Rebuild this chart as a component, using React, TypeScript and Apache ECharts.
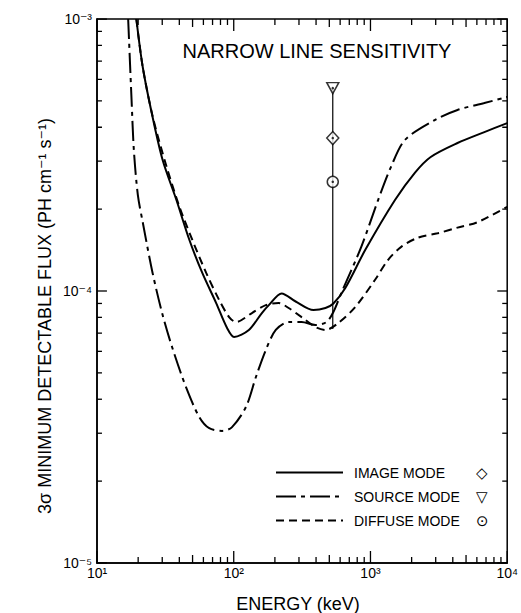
import React, { useEffect, useRef } from "react";
import * as echarts from "echarts";

// ---- data (energy in keV, flux in ph cm^-2 s^-1) ----
const imageEnergy = [19.4, 21.6, 25.5, 30.2, 38.1, 47.4, 58.9, 74.4, 89.4, 100.6, 129, 160.6, 180.6, 224, 283.6, 383, 468.5, 535.5, 654.6, 914.7, 1511, 2110, 2758, 4331, 6805, 10000];
const imageFlux = [1e-3, 6.66e-4, 4.36e-4, 3.03e-4, 2.16e-4, 1.54e-4, 1.165e-4, 9.03e-5, 7.31e-5, 6.78e-5, 7.19e-5, 8.3e-5, 8.87e-5, 9.8e-5, 9.15e-5, 8.51e-5, 8.66e-5, 9.0e-5, 1.026e-4, 1.414e-4, 2.16e-4, 2.72e-4, 3.11e-4, 3.5e-4, 3.84e-4, 4.14e-4];

const sourceEnergy = [16.9, 17.9, 18.6, 19.9, 21.6, 25.5, 30.2, 35.6, 45.0, 56.0, 66.2, 82.3, 97.2, 122.9, 145.3, 171.7, 203, 252, 313.6, 396, 476.5, 535.5, 612, 855, 1137, 1413, 1786, 2949, 4331, 6805, 10000];
const sourceFlux = [1e-3, 5.03e-4, 3.3e-4, 2.25e-4, 1.79e-4, 1.165e-4, 8.16e-5, 6.17e-5, 4.4e-5, 3.44e-5, 3.13e-5, 3.06e-5, 3.16e-5, 3.75e-5, 4.83e-5, 6.07e-5, 7.19e-5, 7.69e-5, 7.69e-5, 7.5e-5, 7.69e-5, 8.37e-5, 9.83e-5, 1.45e-4, 2.16e-4, 2.86e-4, 3.59e-4, 4.25e-4, 4.63e-4, 4.91e-4, 5.17e-4];

const diffuseEnergy = [19.4, 21.6, 25.6, 32.3, 40.1, 49.8, 62.9, 78.2, 92.5, 104, 135.9, 171.7, 213, 252, 313.6, 396, 468.5, 582, 773.6, 1081, 1343, 1670, 2220, 3101, 4331, 6054, 10000];
const diffuseFlux = [1e-3, 6.66e-4, 4.36e-4, 2.86e-4, 2.04e-4, 1.54e-4, 1.165e-4, 9.27e-5, 8.02e-5, 7.69e-5, 8.3e-5, 8.87e-5, 9.03e-5, 8.66e-5, 8.02e-5, 7.37e-5, 7.19e-5, 7.63e-5, 8.73e-5, 1.1e-4, 1.3e-4, 1.45e-4, 1.57e-4, 1.63e-4, 1.71e-4, 1.79e-4, 2.04e-4];

// narrow line sensitivities
const lineEnergy = 530;
const lineFluxBottom = 7.25e-5;
const lineSourceFlux = 5.57e-4;
const lineImageFlux = 3.65e-4;
const lineDiffuseFlux = 2.52e-4;

// axes
const xTickValues = [10, 100, 1000, 10000];
const xTickLabels = ["10¹", "10²", "10³", "10⁴"];
const yTickValues = [1e-5, 1e-4, 1e-3];
const yTickLabels = ["10⁻⁵", "10⁻⁴", "10⁻³"];
const xMinorValues = [20, 30, 40, 50, 60, 70, 80, 90, 200, 300, 400, 500, 600, 700, 800, 900, 2000, 3000, 4000, 5000, 6000, 7000, 8000, 9000];
const yMinorValues = [2e-5, 3e-5, 4e-5, 5e-5, 6e-5, 7e-5, 8e-5, 9e-5, 2e-4, 3e-4, 4e-4, 5e-4, 6e-4, 7e-4, 8e-4, 9e-4];

const legendNames = ["IMAGE MODE", "SOURCE MODE", "DIFFUSE MODE"];
const legendMarks = ["◇", "▽", "⊙"];

const titleText = "NARROW LINE SENSITIVITY";
const xAxisTitle = "ENERGY (keV)";
const yAxisTitle = "3σ MINIMUM DETECTABLE FLUX (PH cm⁻¹ s⁻¹)";

const FONT = "'Liberation Sans', 'DejaVu Sans', sans-serif";
const BLACK = "#000";

const GRID = { left: 97, top: 19, width: 413, height: 544 };
const X_MIN = 10, X_MAX = 10000, Y_MIN = 1e-5, Y_MAX = 1e-3;

function pairs(xs: number[], ys: number[]) {
  return xs.map((x, i) => [x, ys[i]]);
}

function labelFor(values: number[], labels: string[], v: number) {
  for (let i = 0; i < values.length; i++) {
    if (Math.abs(Math.log10(v) - Math.log10(values[i])) < 1e-6) return labels[i];
  }
  return "";
}

// inward ticks on all four sides: each is a tiny two-point line series drawn through the log axes
function buildTickSeries() {
  const xDecPerPx = Math.log10(X_MAX / X_MIN) / GRID.width;
  const yDecPerPx = Math.log10(Y_MAX / Y_MIN) / GRID.height;
  const out: any[] = [];
  const seg = (a: number[], b: number[]) =>
    out.push({
      type: "line",
      name: "tick",
      data: [a, b],
      symbol: "none",
      silent: true,
      z: 6,
      lineStyle: { color: BLACK, width: 1.3, type: "solid" },
    });
  const fy = (px: number) => Math.pow(10, px * yDecPerPx);
  const fx = (px: number) => Math.pow(10, px * xDecPerPx);
  const addX = (v: number, len: number) => {
    seg([v, Y_MIN], [v, Y_MIN * fy(len)]);
    seg([v, Y_MAX], [v, Y_MAX / fy(len)]);
  };
  const addY = (v: number, len: number) => {
    seg([X_MIN, v], [X_MIN * fx(len), v]);
    seg([X_MAX, v], [X_MAX / fx(len), v]);
  };
  xTickValues.forEach((v) => addX(v, 12));
  xMinorValues.forEach((v) => addX(v, String(v)[0] === "5" ? 8 : 6));
  yTickValues.forEach((v) => addY(v, 10));
  yMinorValues.forEach((v) => addY(v, 5));
  return out;
}

export default function App() {
  const ref = useRef<HTMLDivElement>(null);

  useEffect(() => {
    if (!ref.current) return;
    const chart = echarts.init(ref.current, undefined, { renderer: "svg" });

    const option: any = {
      animation: false,
      backgroundColor: "#fff",
      grid: {
        left: GRID.left,
        top: GRID.top,
        width: GRID.width,
        height: GRID.height,
        show: true,
        borderColor: BLACK,
        borderWidth: 1.5,
      },
      xAxis: {
        type: "log",
        logBase: 10,
        min: X_MIN,
        max: X_MAX,
        axisLine: { show: true, lineStyle: { color: BLACK, width: 1.5 } },
        splitLine: { show: false },
        axisTick: { show: false },
        axisLabel: {
          margin: 3,
          color: BLACK,
          fontFamily: FONT,
          fontSize: 14,
          formatter: (v: number) => labelFor(xTickValues, xTickLabels, v),
        },
      },
      yAxis: {
        type: "log",
        logBase: 10,
        min: Y_MIN,
        max: Y_MAX,
        axisLine: { show: true, lineStyle: { color: BLACK, width: 1.5 } },
        axisTick: { show: false },
        splitLine: { show: false },
        axisLabel: {
          margin: 5,
          color: BLACK,
          fontFamily: FONT,
          fontSize: 14,
          formatter: (v: number) => labelFor(yTickValues, yTickLabels, v),
        },
      },
      legend: {
        data: legendNames,
        orient: "vertical",
        left: 275,
        top: 465,
        padding: 0,
        itemWidth: 67,
        itemHeight: 1,
        itemGap: 9,
        selectedMode: false,
        itemStyle: { opacity: 0 },
        textStyle: {
          color: BLACK,
          fontFamily: FONT,
          fontSize: 14,
          rich: {
            n: { width: 122, fontSize: 14, lineHeight: 18, fontFamily: FONT, padding: [0, 0, 0, 6], color: BLACK },
            m: { fontSize: 15, lineHeight: 18, fontFamily: "'DejaVu Sans', sans-serif", color: BLACK },
          },
        },
        formatter: (name: string) => `{n|${name}}{m|${legendMarks[legendNames.indexOf(name)]}}`,
      },
      graphic: [
        {
          type: "text",
          x: 317,
          y: 51,
          style: { text: titleText, fill: BLACK, fontSize: 20, fontFamily: FONT, align: "center", verticalAlign: "middle" },
        },
        {
          type: "text",
          x: 298,
          y: 604,
          style: { text: xAxisTitle, fill: BLACK, fontSize: 18, fontFamily: FONT, align: "center", verticalAlign: "middle" },
        },
        {
          type: "text",
          x: 45,
          y: 316,
          rotation: Math.PI / 2,
          style: { text: yAxisTitle, fill: BLACK, fontSize: 18, fontFamily: FONT, align: "center", verticalAlign: "middle" },
        },
      ],
      series: [
        ...buildTickSeries(),
        {
          name: "IMAGE MODE",
          type: "line",
          data: pairs(imageEnergy, imageFlux),
          smooth: 0.3,
          symbol: "none",
          showSymbol: false,
          lineStyle: { color: BLACK, width: 2, type: "solid" },
          itemStyle: { color: BLACK },
        },
        {
          name: "SOURCE MODE",
          type: "line",
          data: pairs(sourceEnergy, sourceFlux),
          smooth: 0.3,
          symbol: "none",
          showSymbol: false,
          lineStyle: { color: BLACK, width: 2, type: [20, 5, 4, 5] },
          itemStyle: { color: BLACK },
        },
        {
          name: "DIFFUSE MODE",
          type: "line",
          data: pairs(diffuseEnergy, diffuseFlux),
          smooth: 0.3,
          symbol: "none",
          showSymbol: false,
          lineStyle: { color: BLACK, width: 2, type: [8, 5] },
          itemStyle: { color: BLACK },
        },
        {
          name: "line sensitivity",
          type: "line",
          data: [
            [lineEnergy, lineFluxBottom],
            [lineEnergy, lineSourceFlux],
          ],
          symbol: "none",
          lineStyle: { color: BLACK, width: 1.2 },
          z: 3,
        },
        {
          name: "line source",
          type: "scatter",
          data: [[lineEnergy, lineSourceFlux]],
          symbol: "triangle",
          symbolRotate: 180,
          symbolSize: [12, 11],
          itemStyle: { color: "#fff", borderColor: BLACK, borderWidth: 1.5 },
          z: 4,
        },
        {
          name: "line image",
          type: "scatter",
          data: [[lineEnergy, lineImageFlux]],
          symbol: "diamond",
          symbolSize: [12, 13],
          itemStyle: { color: "#fff", borderColor: BLACK, borderWidth: 1.5 },
          z: 4,
        },
        {
          name: "line diffuse",
          type: "scatter",
          data: [[lineEnergy, lineDiffuseFlux]],
          symbol: "circle",
          symbolSize: 11,
          itemStyle: { color: "#fff", borderColor: BLACK, borderWidth: 1.5 },
          z: 4,
        },
        {
          name: "line centres",
          type: "scatter",
          data: [
            [lineEnergy, lineSourceFlux],
            [lineEnergy, lineImageFlux],
            [lineEnergy, lineDiffuseFlux],
          ],
          symbol: "circle",
          symbolSize: 2.5,
          itemStyle: { color: BLACK },
          z: 5,
        },
      ],
    };

    chart.setOption(option);
    return () => chart.dispose();
  }, []);

  return (
    <div
      ref={ref}
      style={{ position: "absolute", left: 0, top: 0, width: 521, height: 613, background: "#fff" }}
    />
  );
}
